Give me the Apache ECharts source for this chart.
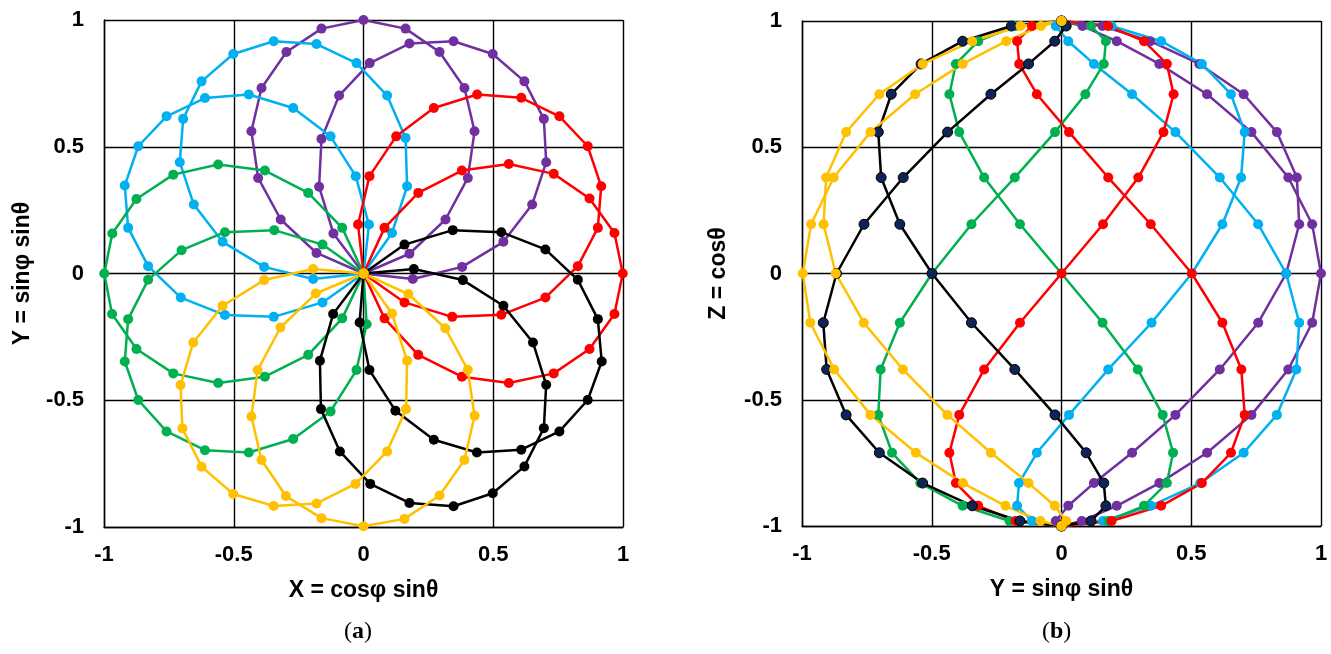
<!DOCTYPE html>
<html>
<head>
<meta charset="utf-8">
<script src="https://cdn.jsdelivr.net/npm/echarts@6/dist/echarts.min.js"></script>
<style>html,body{margin:0;padding:0;background:#fff;}#c{width:1331px;height:654px;}</style>
</head>
<body>
<div id="c"></div>
<script>
// Z = cos(theta) levels (rows of markers in panel b), shared by every curve
const zLevels = [1, 0.98, 0.92, 0.83, 0.71, 0.56, 0.38, 0.195, 0, -0.195, -0.38, -0.56, -0.71, -0.83, -0.92, -0.98, -1];

// Red
const red1X = [0, 0.081, 0.211, 0.379, 0.56, 0.733, 0.871, 0.967, 0.999, 0.967, 0.871, 0.733, 0.56, 0.379, 0.211, 0.081, 0];
const red1Y = [0, 0.18, 0.318, 0.406, 0.432, 0.393, 0.296, 0.16, 0, -0.16, -0.298, -0.394, -0.432, -0.407, -0.321, -0.177, 0];
const red2X = [0, 0.158, 0.342, 0.531, 0.701, 0.826, 0.903, 0.916, 0.864, 0.755, 0.608, 0.438, 0.271, 0.126, 0.023, -0.021, 0];
const red2Y = [0, -0.114, -0.171, -0.163, -0.095, 0.029, 0.18, 0.344, 0.502, 0.62, 0.693, 0.706, 0.653, 0.541, 0.384, 0.193, 0];
// Purple
const pur1X = [0, -0.181, -0.319, -0.406, -0.432, -0.393, -0.297, -0.162, 0, 0.162, 0.293, 0.389, 0.428, 0.402, 0.316, 0.177, 0];
const pur1Y = [0, 0.081, 0.213, 0.377, 0.561, 0.732, 0.874, 0.966, 1, 0.966, 0.874, 0.732, 0.561, 0.377, 0.213, 0.078, 0];
const pur2X = [0, -0.116, -0.171, -0.162, -0.094, 0.024, 0.177, 0.347, 0.498, 0.62, 0.695, 0.704, 0.65, 0.539, 0.38, 0.19, 0];
const pur2Y = [0, 0.158, 0.342, 0.531, 0.702, 0.83, 0.907, 0.916, 0.866, 0.758, 0.61, 0.439, 0.272, 0.125, 0.026, -0.022, 0];
// Blue
const blu1X = [0, -0.194, -0.383, -0.543, -0.654, -0.708, -0.695, -0.624, -0.502, -0.346, -0.181, -0.027, 0.091, 0.162, 0.168, 0.11, 0];
const blu1Y = [0, -0.022, 0.026, 0.125, 0.272, 0.439, 0.61, 0.758, 0.866, 0.916, 0.905, 0.83, 0.702, 0.535, 0.344, 0.16, 0];
const blu2X = [0, 0.021, -0.03, -0.127, -0.271, -0.442, -0.611, -0.759, -0.868, -0.92, -0.907, -0.83, -0.704, -0.534, -0.346, -0.158, 0];
const blu2Y = [0, 0.193, 0.384, 0.541, 0.653, 0.706, 0.692, 0.62, 0.502, 0.347, 0.18, 0.029, -0.095, -0.164, -0.171, -0.114, 0];
// Green
const grn1X = [0, -0.082, -0.213, -0.38, -0.56, -0.733, -0.875, -0.969, -0.999, -0.968, -0.875, -0.733, -0.56, -0.38, -0.213, -0.082, 0];
const grn1Y = [0, -0.177, -0.321, -0.407, -0.432, -0.394, -0.298, -0.16, 0, 0.158, 0.294, 0.39, 0.43, 0.406, 0.318, 0.18, 0];
const grn2X = [0, -0.158, -0.344, -0.534, -0.701, -0.83, -0.907, -0.92, -0.868, -0.759, -0.611, -0.442, -0.271, -0.127, -0.027, 0.012, 0];
const grn2Y = [0, 0.114, 0.171, 0.163, 0.092, -0.025, -0.18, -0.347, -0.499, -0.623, -0.697, -0.706, -0.653, -0.544, -0.381, -0.2, 0];
// Yellow
const yel1X = [0, -0.184, -0.32, -0.408, -0.432, -0.393, -0.299, -0.162, 0, 0.158, 0.293, 0.389, 0.428, 0.402, 0.315, 0.173, 0];
const yel1Y = [0, -0.079, -0.213, -0.381, -0.564, -0.736, -0.878, -0.965, -0.997, -0.968, -0.876, -0.736, -0.561, -0.38, -0.216, -0.081, 0];
const yel2X = [0, 0.11, 0.168, 0.164, 0.091, -0.031, -0.181, -0.346, -0.502, -0.624, -0.698, -0.705, -0.656, -0.543, -0.383, -0.194, 0];
const yel2Y = [0, -0.158, -0.344, -0.535, -0.702, -0.83, -0.907, -0.917, -0.87, -0.762, -0.611, -0.44, -0.272, -0.127, -0.026, 0.018, 0];
// Black / navy
const blk1X = [0, 0.194, 0.383, 0.539, 0.653, 0.704, 0.695, 0.62, 0.498, 0.347, 0.177, 0.026, -0.091, -0.164, -0.168, -0.117, 0];
const blk1Y = [0, 0.018, -0.026, -0.127, -0.272, -0.439, -0.61, -0.761, -0.867, -0.918, -0.905, -0.83, -0.702, -0.535, -0.344, -0.16, 0];
const blk2X = [0, -0.015, 0.023, 0.123, 0.271, 0.437, 0.608, 0.755, 0.864, 0.918, 0.903, 0.826, 0.701, 0.531, 0.344, 0.158, 0];
const blk2Y = [0, -0.193, -0.381, -0.541, -0.656, -0.706, -0.695, -0.623, -0.499, -0.347, -0.18, -0.025, 0.095, 0.163, 0.171, 0.114, 0];

const tickValues = [-1, -0.5, 0, 0.5, 1];

const curves = [
  {x: pur1X, y: pur1Y, c: '#7030A0'},
  {x: pur2X, y: pur2Y, c: '#7030A0'},
  {x: blu1X, y: blu1Y, c: '#00B0F0'},
  {x: blu2X, y: blu2Y, c: '#00B0F0'},
  {x: grn1X, y: grn1Y, c: '#00B050'},
  {x: grn2X, y: grn2Y, c: '#00B050'},
  {x: red1X, y: red1Y, c: '#FF0000'},
  {x: red2X, y: red2Y, c: '#FF0000'},
  {x: blk1X, y: blk1Y, c: '#000000', cb: '#0E2356'},
  {x: blk2X, y: blk2Y, c: '#000000', cb: '#0E2356'},
  {x: yel1X, y: yel1Y, c: '#FFC000'},
  {x: yel2X, y: yel2Y, c: '#FFC000'}
];

const FONT = '"Liberation Sans", Arial, sans-serif';
function axis(gridIndex, name, isY, gap) {
  return {
    type: 'value', gridIndex: gridIndex, min: -1, max: 1, interval: 0.5,
    name: name, nameLocation: 'middle', nameGap: gap,
    nameTextStyle: {fontFamily: FONT, fontWeight: 'bold', fontSize: 23, color: '#000'},
    axisLine: {show: true, onZero: false, lineStyle: {color: '#000', width: 1.4}},
    axisTick: {show: false},
    splitLine: {show: true, lineStyle: {color: '#000', width: 1.4}},
    axisLabel: {fontFamily: FONT, fontWeight: 'bold', fontSize: 22, color: '#000',
      margin: isY ? 20 : 17, showMinLabel: true, showMaxLabel: true,
      formatter: function (v) { return tickValues.indexOf(v) >= 0 ? String(v) : ''; }}
  };
}

const series = [];
curves.forEach(function (cv) {
  series.push({
    type: 'line', xAxisIndex: 0, yAxisIndex: 0, clip: false, silent: true,
    data: cv.x.map(function (v, i) { return [v, cv.y[i]]; }),
    symbol: 'circle', symbolSize: 10,
    lineStyle: {color: cv.c, width: 2.5},
    itemStyle: {color: cv.c}
  });
});
curves.forEach(function (cv) {
  series.push({
    type: 'line', xAxisIndex: 1, yAxisIndex: 1, clip: false, silent: true,
    data: cv.y.map(function (v, i) { return [v, zLevels[i]]; }),
    symbol: 'circle', symbolSize: 10,
    lineStyle: {color: cv.c, width: 2.5},
    itemStyle: cv.cb ? {color: cv.cb, borderColor: '#000', borderWidth: 1} : {color: cv.c}
  });
});

const chart = echarts.init(document.getElementById('c'), null, {renderer: 'canvas'});
chart.setOption({
  animation: false,
  backgroundColor: '#fff',
  grid: [
    {left: 104, top: 20, width: 519, height: 507},
    {left: 802, top: 21, width: 519, height: 505}
  ],
  xAxis: [axis(0, 'X = cosφ sinθ', false, 52), axis(1, 'Y = sinφ sinθ', false, 52)],
  yAxis: [axis(0, 'Y = sinφ sinθ', true, 70), axis(1, 'Z = cosθ', true, 72)],
  series: series,
  graphic: [
    {type: 'text', left: 344, top: 620, style: {text: '{n|(}{b|a}{n|)}', rich: {
      n: {fontFamily: '"Liberation Serif", serif', fontSize: 24, fill: '#000'},
      b: {fontFamily: '"Liberation Serif", serif', fontSize: 24, fontWeight: 'bold', fill: '#000'}}}},
    {type: 'text', left: 1042, top: 620, style: {text: '{n|(}{b|b}{n|)}', rich: {
      n: {fontFamily: '"Liberation Serif", serif', fontSize: 24, fill: '#000'},
      b: {fontFamily: '"Liberation Serif", serif', fontSize: 24, fontWeight: 'bold', fill: '#000'}}}}
  ]
});
</script>
</body>
</html>
